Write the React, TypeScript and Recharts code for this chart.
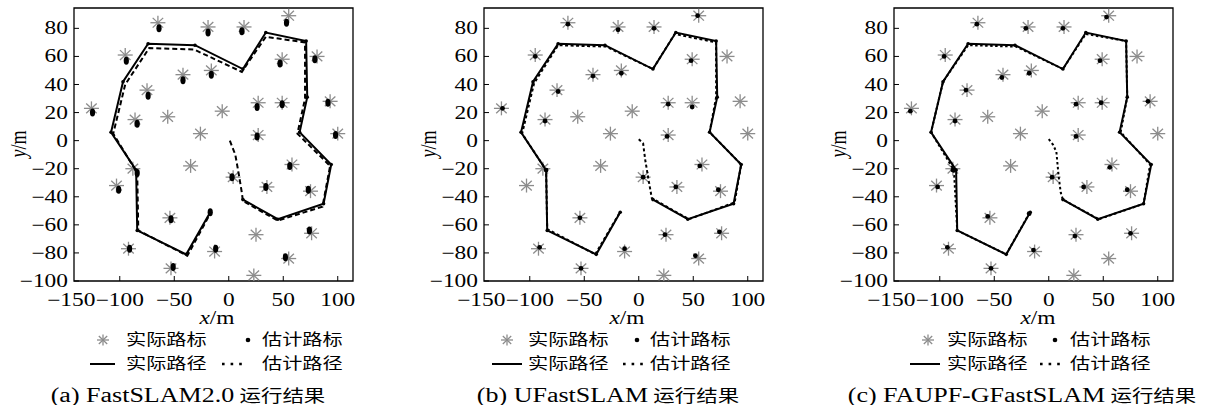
import React from "react";
import { ScatterChart, Scatter, XAxis, YAxis, ReferenceArea } from "recharts";

type Pt = [number, number];

const xTicks = [-150, -100, -50, 0, 50, 100];
const yTicks = [-100, -80, -60, -40, -20, 0, 20, 40, 60, 80];

// real landmark positions (same map in all three runs)
const realLandmarks: Pt[] = [
  [-126, 23], [-95, 61], [-65, 84], [-19, 81], [14, 81], [55, 89], [81, 60],
  [49, 58], [-16, 50], [-42, 47], [-75, 36], [-86, 15], [-56, 17], [-6, 21],
  [-26, 5], [27, 27], [49, 27], [27, 4], [93, 28], [100, 5], [-88, -20],
  [-103, -32], [-35, -18], [4, -26], [58, -17], [35, -33], [75, -36],
  [-54, -55], [-92, -77], [-53, -91], [-13, -79], [25, -67], [55, -84],
  [76, -66], [23, -96],
];

// estimated landmarks, one list per algorithm
const estLandmarksA: Pt[] = [
  [-125, 20], [-94, 57], [-64, 80], [-19, 77], [12, 78], [53, 84], [79, 58],
  [47, 55], [-16, 47], [-42, 43], [-74, 32], [-84, 12], [26, 24], [49, 26],
  [26, 3], [91, 27], [98, 4], [-84, -23], [-101, -35], [3, -26], [56, -18],
  [34, -33], [73, -35], [-53, -56], [-91, -77], [-51, -90], [-12, -77],
  [52, -83], [74, -64], [-17, -51],
];
const estLandmarksB: Pt[] = [
  [-125, 23], [-95, 60], [-65, 83], [-19, 79], [14, 80], [54, 89], [48, 57],
  [-16, 48], [-42, 46], [-74, 35], [-86, 14], [27, 26], [49, 24], [26, 3],
  [-85, -21], [4, -26], [56, -18], [34, -33], [73, -35], [-54, -55],
  [-91, -76], [-53, -91], [-13, -77], [24, -67], [52, -82], [74, -65],
];
const estLandmarksC: Pt[] = [
  [-127, 21], [-96, 60], [-66, 83], [-21, 80], [13, 80], [53, 88], [47, 57],
  [-18, 48], [-43, 45], [-76, 36], [-86, 14], [25, 26], [48, 27], [25, 3],
  [91, 28], [-88, -21], [-102, -33], [3, -26], [56, -19], [32, -33],
  [72, -35], [-56, -54], [-93, -76], [-53, -91], [-14, -78], [24, -68],
  [75, -66], [-18, -52],
];

// real vehicle path
const realPath: Pt[] = [
  [13, -42], [45, -56], [87, -45], [94, -17], [65, 6], [72, 31], [71, 71],
  [34, 77], [13, 51], [-31, 68], [-74, 69], [-97, 42], [-108, 6], [-85, -21],
  [-84, -64], [-39, -81], [-17, -51],
];

// estimated paths
const estPathA: Pt[] = [
  [1, 0], [3, -4], [6, -10], [9, -23], [12, -37], [13, -43], [45, -57],
  [86, -47], [93, -18], [63, 5], [70, 30], [70, 70], [34, 74], [12, 49],
  [-32, 65], [-73, 66], [-95, 40], [-106, 5], [-84, -23], [-83, -64],
  [-38, -82], [-17, -52],
];
const estPathB: Pt[] = [
  [0, 1], [4, -2], [6, -14], [9, -28], [12, -41], [46, -56], [88, -44],
  [94, -17], [65, 6], [71, 31], [71, 70], [33, 76], [13, 51], [-30, 67],
  [-74, 68], [-96, 41], [-107, 5], [-85, -21], [-84, -63], [-40, -81],
  [-18, -52],
];
const estPathC: Pt[] = [
  [0, 1], [4, -3], [7, -8], [9, -25], [11, -37], [13, -42], [46, -56],
  [87, -45], [93, -17], [66, 6], [72, 31], [71, 71], [34, 76], [13, 51],
  [-30, 67], [-74, 68], [-97, 42], [-108, 6], [-87, -21], [-84, -64],
  [-39, -81], [-18, -52],
];

const legendLabels = ["实际路标", "估计路标", "实际路径", "估计路径"];

const SERIF = "'Liberation Serif', 'Noto Sans CJK SC', serif";
const SX = 1.3; // the source figure is stretched horizontally
const BOX_L = 74;
const BOX_T = 8;
const BOX_W = 279;
const BOX_H = 273;
const Y_AXIS_W = 60;
const X_AXIS_H = 30;
const X_MIN = -142;
const X_MAX = 114;
const Y_MIN = -100;
const Y_MAX = 94.5;

const toXY = (pts: Pt[]) => pts.map(([x, y]) => ({ x, y }));
const fmt = (v: number) => String(v).replace("-", "\u2212");

const XTick = (p: any) => {
  const v = p.payload.value;
  const x = p.x;
  const by = BOX_T + BOX_H;
  return (
    <g>
      {v >= X_MIN && <line x1={x} x2={x} y1={by} y2={by - 5} stroke="#000" strokeWidth={1} />}
      <text
        transform={`translate(${x + (v === -150 ? 6 : 0)},${by + 19}) scale(${SX},1)`}
        textAnchor="middle"
        dominantBaseline="central"
        fontSize={18}
        fontFamily={SERIF}
        fill="#000"
      >
        {fmt(v)}
      </text>
    </g>
  );
};

const YTick = (p: any) => {
  const v = p.payload.value;
  const y = p.y;
  return (
    <g>
      <line x1={BOX_L} x2={BOX_L + 5} y1={y} y2={y} stroke="#000" strokeWidth={1} />
      <text
        transform={`translate(${BOX_L - 6},${y}) scale(${SX},1)`}
        textAnchor="end"
        dominantBaseline="central"
        fontSize={18}
        fontFamily={SERIF}
        fill="#000"
      >
        {fmt(v)}
      </text>
    </g>
  );
};

const Asterisk = ({ cx, cy, r = 7.5 }: any) => {
  const rx = r;
  const ry = r * 0.93;
  const d = 0.7;
  return (
    <g stroke="#8c8c8c" strokeWidth={1.3}>
      <line x1={cx - rx} x2={cx + rx} y1={cy} y2={cy} />
      <line x1={cx} x2={cx} y1={cy - ry} y2={cy + ry} />
      <line x1={cx - rx * d} x2={cx + rx * d} y1={cy - ry * d} y2={cy + ry * d} />
      <line x1={cx - rx * d} x2={cx + rx * d} y1={cy + ry * d} y2={cy - ry * d} />
    </g>
  );
};

const Label = ({ x, y, size, center, children, style }: any) => (
  <span
    style={{
      position: "absolute",
      left: x,
      top: y,
      fontSize: size,
      lineHeight: 1,
      whiteSpace: "nowrap",
      fontFamily: SERIF,
      color: "#000",
      transformOrigin: center ? "50% 50%" : "0 50%",
      transform: center ? `translate(-50%,-50%) scaleX(${SX})` : `translateY(-50%) scaleX(${SX})`,
      ...style,
    }}
  >
    {children}
  </span>
);

interface LegendPos {
  ast: number;
  t1: number;
  dot: number;
  t2: number;
  line: [number, number];
  dots: [number, number];
}

interface PanelProps {
  left: number;
  width: number;
  estLandmarks: Pt[];
  estPath: Pt[];
  dash: string;
  blob: boolean;
  legend: LegendPos;
  caption: string;
  captionX: number;
  xLabelX: number;
}

const Panel = ({ left, width, estLandmarks, estPath, dash, blob, legend, caption, captionX, xLabelX }: PanelProps) => {
  const right = width - BOX_L - BOX_W;
  const bottom = 405 - BOX_T - BOX_H - X_AXIS_H;
  const r1 = 340;
  const r2 = 364;
  return (
    <div style={{ position: "absolute", left, top: 0, width, height: 405 }}>
      <ScatterChart width={width} height={405} margin={{ top: BOX_T, left: BOX_L - Y_AXIS_W, right, bottom }}>
        <XAxis
          type="number"
          dataKey="x"
          domain={[X_MIN, X_MAX]}
          ticks={xTicks}
          interval={0}
          allowDataOverflow
          height={X_AXIS_H}
          axisLine={false}
          tickLine={false}
          tick={XTick}
        />
        <YAxis
          type="number"
          dataKey="y"
          domain={[Y_MIN, Y_MAX]}
          ticks={yTicks}
          interval={0}
          allowDataOverflow
          width={Y_AXIS_W}
          axisLine={false}
          tickLine={false}
          tick={YTick}
        />
        <ReferenceArea x1={X_MIN} x2={X_MAX} y1={Y_MIN} y2={Y_MAX} fill="none" stroke="#000" strokeWidth={1.3} />
        <Scatter data={toXY(realLandmarks)} shape={(p: any) => <Asterisk cx={p.cx} cy={p.cy} />} isAnimationActive={false} />
        <Scatter
          data={toXY(estLandmarks)}
          shape={(p: any) =>
            blob ? <ellipse cx={p.cx} cy={p.cy} rx={2.6} ry={4} fill="#000" /> : <circle cx={p.cx} cy={p.cy} r={2.4} fill="#000" />
          }
          isAnimationActive={false}
        />
        <Scatter
          data={toXY(realPath)}
          line={{ stroke: "#000", strokeWidth: 2 }}
          lineType="joint"
          shape={(p: any) => <circle cx={p.cx} cy={p.cy} r={1.8} fill="#000" />}
          isAnimationActive={false}
        />
        <Scatter
          data={toXY(estPath)}
          line={{ stroke: "#000", strokeWidth: 2, strokeDasharray: dash }}
          lineType="joint"
          shape={() => <g />}
          isAnimationActive={false}
        />
      </ScatterChart>

      <Label x={BOX_L - 56} y={144} size={18} center style={{ transform: `translate(-50%,-50%) rotate(-90deg) scale(1,${SX})` }}>
        <i>y</i>/m
      </Label>
      <Label x={xLabelX} y={318} size={18} center>
        <i>x</i>/m
      </Label>

      <svg style={{ position: "absolute", left: 0, top: 0, overflow: "visible" }} width={width} height={405}>
        <Asterisk cx={legend.ast} cy={r1} r={6} />
        <circle cx={legend.dot} cy={r1} r={2.3} fill="#000" />
        <line x1={legend.line[0]} x2={legend.line[1]} y1={r2} y2={r2} stroke="#000" strokeWidth={2} />
        <line x1={legend.dots[0]} x2={legend.dots[1]} y1={r2} y2={r2} stroke="#000" strokeWidth={2.6} strokeDasharray="2.6 6" />
      </svg>
      <Label x={legend.t1} y={r1} size={15.5}>{legendLabels[0]}</Label>
      <Label x={legend.t2} y={r1} size={15.5}>{legendLabels[1]}</Label>
      <Label x={legend.t1} y={r2} size={15.5}>{legendLabels[2]}</Label>
      <Label x={legend.t2} y={r2} size={15.5}>{legendLabels[3]}</Label>

      <Label x={captionX} y={395} size={20} center>
        {caption}
        <span style={{ fontSize: 16.5 }}> 运行结果</span>
      </Label>
    </div>
  );
};

export default function App() {
  return (
    <div style={{ position: "absolute", left: 0, top: 0, width: 1209, height: 405, background: "#fff", overflow: "hidden" }}>
      <Panel
        left={0}
        width={410}
        estLandmarks={estLandmarksA}
        estPath={estPathA}
        dash="5 3"
        blob
        legend={{ ast: 103, t1: 126, dot: 248, t2: 262, line: [90, 115], dots: [222, 247] }}
        caption="(a) FastSLAM2.0"
        captionX={188}
        xLabelX={217}
      />
      <Panel
        left={410}
        width={410}
        estLandmarks={estLandmarksB}
        estPath={estPathB}
        dash="3 2.5"
        blob={false}
        legend={{ ast: 97, t1: 118, dot: 227, t2: 240, line: [82, 112], dots: [213, 235] }}
        caption="(b) UFastSLAM"
        captionX={198}
        xLabelX={217}
      />
      <Panel
        left={820}
        width={389}
        estLandmarks={estLandmarksC}
        estPath={estPathC}
        dash="2.5 2.5"
        blob={false}
        legend={{ ast: 108, t1: 127, dot: 235, t2: 250, line: [90, 120], dots: [220, 243] }}
        caption="(c) FAUPF-GFastSLAM"
        captionX={202}
        xLabelX={218}
      />
    </div>
  );
}
